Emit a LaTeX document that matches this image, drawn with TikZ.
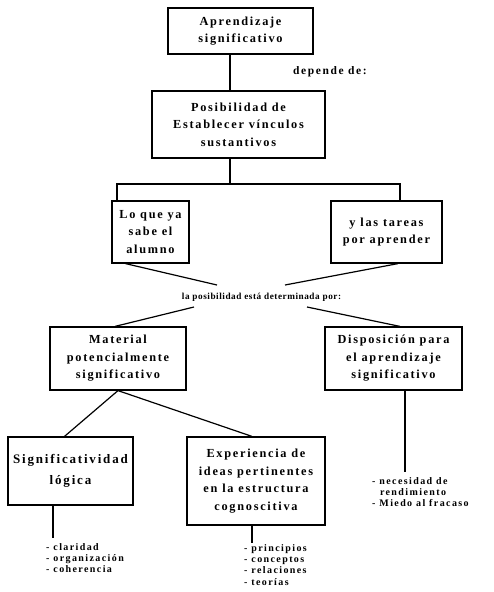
\documentclass[tikz,border=0pt]{standalone}
\usepackage{fontspec}
\setmainfont{Liberation Serif}[LetterSpace=14]
\newfontfamily\tightfont{Liberation Serif}[LetterSpace=6]
\usetikzlibrary{calc}
\tikzset{
  box/.style={draw, line width=1.2pt, inner sep=0pt, align=center,
    font=\bfseries\fontsize{12.3}{17.5}\selectfont},
  lbl/.style={inner sep=0pt, font=\bfseries\fontsize{9.5}{11.5}\selectfont},
  lst/.style={inner sep=0pt, align=left, anchor=north west, font=\bfseries\fontsize{10}{11.3}\selectfont},
  con/.style={line width=1.2pt}
}
\begin{document}
\begin{tikzpicture}[x=1pt,y=-1pt]
\useasboundingbox (0,0) rectangle (494,592);
% boxes
\node[box, minimum width=145, minimum height=46] (a1) at (240.5,31) {Aprendizaje\\significativo};
\node[lbl, font=\bfseries\fontsize{11.5}{12}\selectfont] (dep) at (330,72) {depende de:};
\node[box, minimum width=173, minimum height=67] (a2) at (238.5,124.5) {Posibilidad de\\Establecer vínculos\\sustantivos};
\node[box, minimum width=77, minimum height=62] (lq) at (150.5,232) {Lo que ya\\sabe el\\alumno};
\node[box, minimum width=111, minimum height=62] (ta) at (386.5,232) {y las tareas\\por aprender};
\node[lbl, font=\tightfont\bfseries\fontsize{9.2}{11.5}\selectfont] (det) at (261.5,297) {la posibilidad está determinada por:};
\node[box, minimum width=136, minimum height=63] (mat) at (118,358.5) {Material\\potencialmente\\significativo};
\node[box, minimum width=137, minimum height=63] (dis) at (393.5,358.5) {Disposición para\\el aprendizaje\\significativo};
\node[box, minimum width=125, minimum height=68, font=\bfseries\fontsize{13}{21}\selectfont] (sig) at (70.5,471) {Significatividad\\lógica};
\node[box, minimum width=138, minimum height=88] (exp) at (256,481) {Experiencia de\\ideas pertinentes\\en la estructura\\cognoscitiva};
% lists
\node[lst] (l1) at (46,543) {- claridad\\- organización\\- coherencia};
\node[lst] (l2) at (244,544) {- principios\\- conceptos\\- relaciones\\- teorías};
\node[lst] (l3) at (372,477) {- necesidad de\\\ \ rendimiento\\- Miedo al fracaso};
% coordinates
\coordinate (v1) at (230,0);
\coordinate (hl) at (117,184);
\coordinate (hr) at (400,184);
\coordinate (pl1) at (217,285);
\coordinate (pr1) at (285,285);
\coordinate (pl2) at (194,307);
\coordinate (pr2) at (307,307);
\coordinate (e1) at (53,538);
\coordinate (e2) at (252,543);
\coordinate (e3) at (405,472);
% connectors
\draw[con] (a1.south -| v1) -- (a2.north -| v1);
\draw[con] (a2.south -| v1) -- (v1 |- hl);
\draw[con] (lq.north -| hl) -- (hl) -- (hr) -- (ta.north -| hr);
\draw[con] ([xshift=-25]lq.south) -- (pl1);
\draw[con] ([xshift=11.5]ta.south) -- (pr1);
\draw[con] (pl2) -- ([xshift=-3]mat.north);
\draw[con] (pr2) -- ([xshift=6.5]dis.north);
\draw[con] (mat.south) -- ([xshift=-6]sig.north);
\draw[con] (mat.south) -- ([xshift=-4]exp.north);
\draw[con] (sig.south -| e1) -- (e1);
\draw[con] (exp.south -| e2) -- (e2);
\draw[con] (dis.south -| e3) -- (e3);
\end{tikzpicture}
\end{document}
